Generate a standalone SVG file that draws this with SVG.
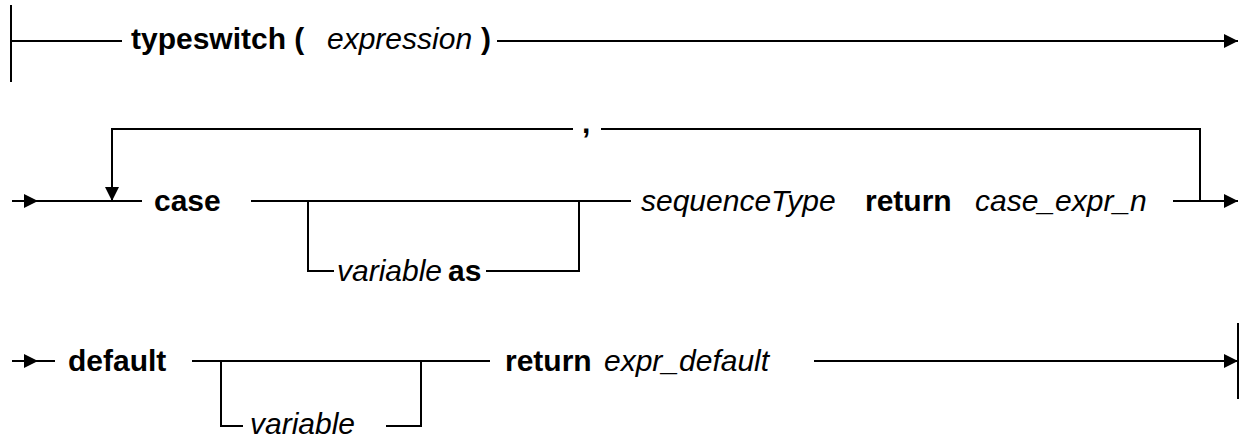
<svg xmlns="http://www.w3.org/2000/svg" width="1239" height="440" viewBox="0 0 1239 440">
<style>
.ln{stroke:#000;stroke-width:2;fill:none}
.t{font-family:"Liberation Sans",Arial,sans-serif;font-size:30px;fill:#000}
.b{font-weight:bold}
.i{font-style:italic}
</style>
<defs>
<marker id="ah" markerUnits="userSpaceOnUse" markerWidth="14" markerHeight="14" refX="14" refY="7" orient="auto">
<path d="M0,0 L14,7 L0,14 Z" fill="#000"/>
</marker>
</defs>
<rect width="1239" height="440" fill="#fff"/>
<g id="connectors">
<line class="ln" x1="11" y1="5" x2="11" y2="82"/>
<line class="ln" x1="11" y1="41" x2="122" y2="41"/>
<line class="ln" x1="497" y1="41" x2="1238" y2="41" marker-end="url(#ah)"/>
<line class="ln" x1="12" y1="201" x2="38" y2="201" marker-end="url(#ah)"/>
<line class="ln" x1="38" y1="201" x2="142" y2="201"/>
<path class="ln" d="M1200,201 V129 H601"/>
<path class="ln" d="M573,129 H112 V201" marker-end="url(#ah)"/>
<line class="ln" x1="251" y1="201" x2="631" y2="201"/>
<path class="ln" d="M308,201 V271 H334"/>
<path class="ln" d="M579,201 V271 H486"/>
<line class="ln" x1="1173" y1="201" x2="1238" y2="201" marker-end="url(#ah)"/>
<line class="ln" x1="12" y1="361" x2="38" y2="361" marker-end="url(#ah)"/>
<line class="ln" x1="38" y1="361" x2="55" y2="361"/>
<line class="ln" x1="192" y1="361" x2="490" y2="361"/>
<path class="ln" d="M221,361 V426 H243"/>
<path class="ln" d="M421,361 V426 H386"/>
<line class="ln" x1="814" y1="361" x2="1238" y2="361" marker-end="url(#ah)"/>
<line class="ln" x1="1238" y1="323" x2="1238" y2="399"/>
</g>
<g id="typeswitch">
<text class="t b" x="131" y="49">typeswitch (</text>
<text class="t i" x="327" y="49">expression</text>
<text class="t b" x="481" y="49">)</text>
</g>
<g id="comma"><text class="t b" x="582" y="133">,</text></g>
<g id="case"><text class="t b" x="154" y="211">case</text></g>
<g id="variable-as">
<text class="t i" x="337" y="281">variable</text>
<text class="t b" x="448" y="281">as</text>
</g>
<g id="sequence">
<text class="t i" x="641" y="211">sequenceType</text>
<text class="t b" x="865" y="211">return</text>
<text class="t i" x="975" y="211">case_expr_n</text>
</g>
<g id="default"><text class="t b" x="68" y="371">default</text></g>
<g id="variable"><text class="t i" x="250" y="434">variable</text></g>
<g id="return-default">
<text class="t b" x="505" y="371">return</text>
<text class="t i" x="604" y="371">expr_default</text>
</g>
</svg>
